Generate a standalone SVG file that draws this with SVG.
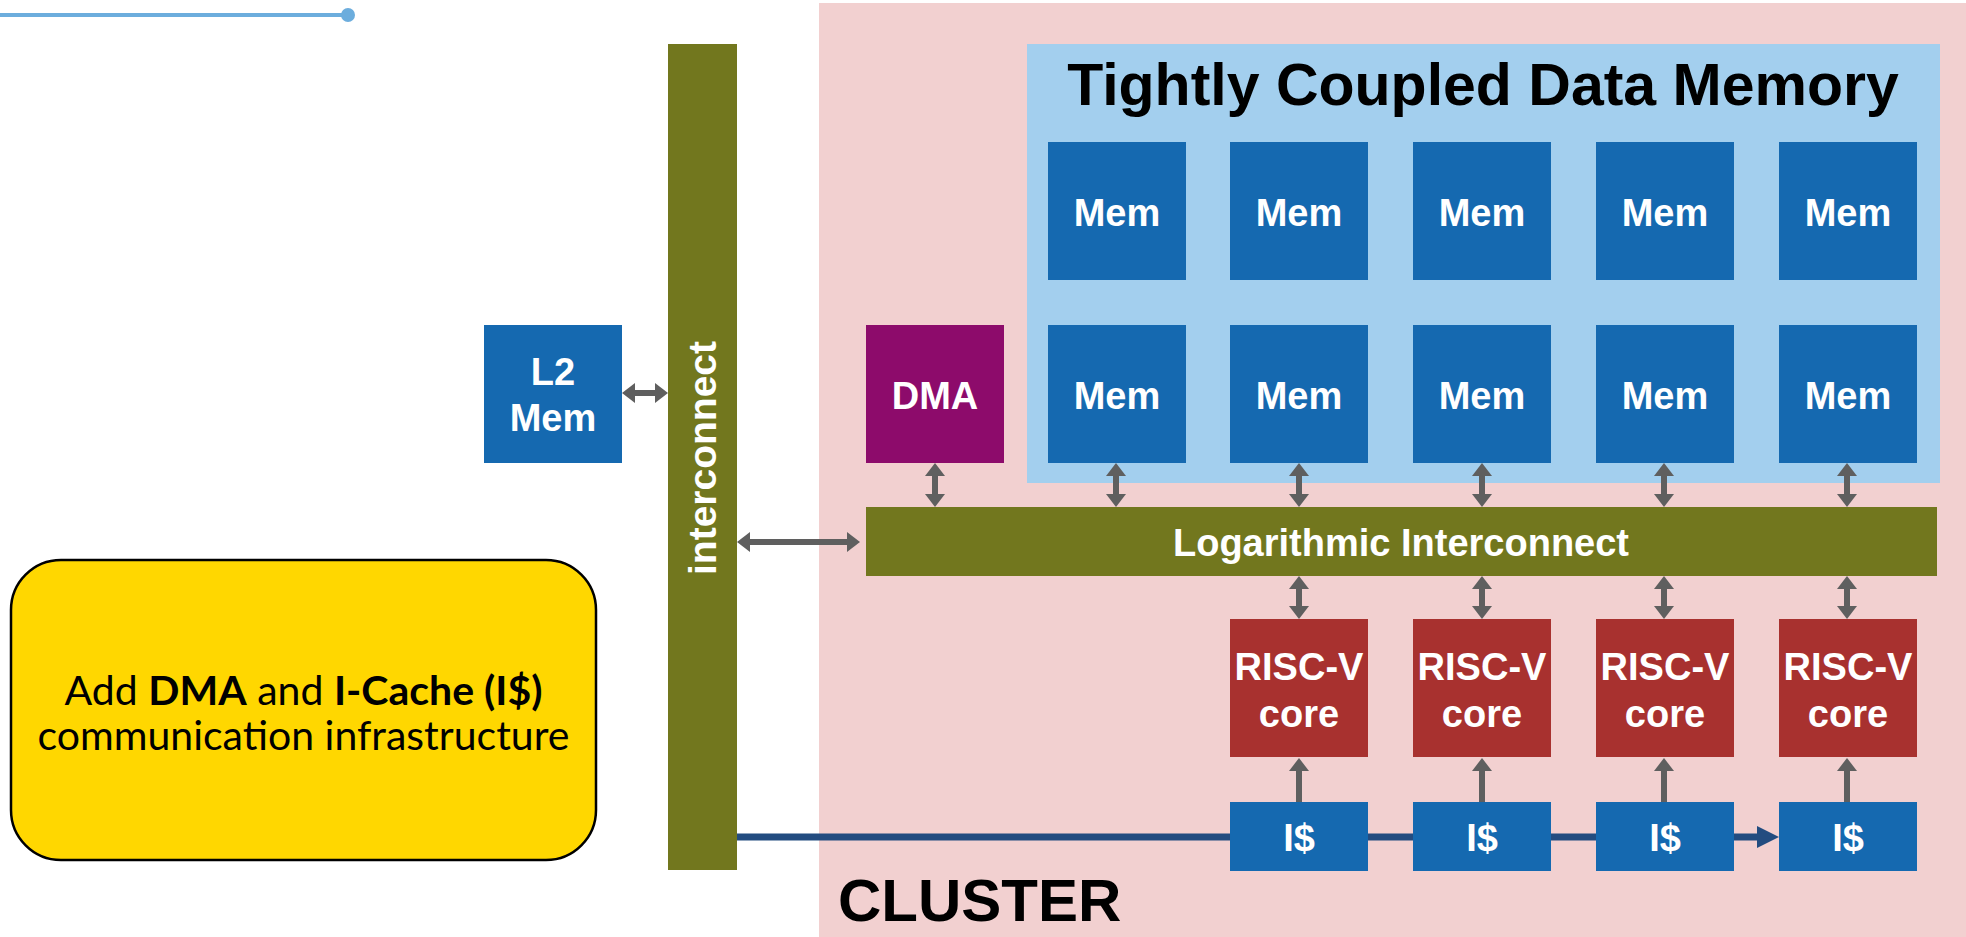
<svg xmlns="http://www.w3.org/2000/svg" width="1966" height="937" viewBox="0 0 1966 937">
  <style>
    .lbl { font-family: "Liberation Sans", Arial, sans-serif; font-weight: bold; fill: #ffffff; text-anchor: middle; }
    .mem { fill: #1569B0; }
    .core { fill: #A8312F; }
    .olive { fill: #72771E; }
    .arr { stroke: #5F5F5F; stroke-width: 6; fill: none; }
    .arr2 { marker-start: url(#head); marker-end: url(#head); }
    .arr1 { marker-end: url(#head); }
  </style>
  <defs>
    <marker id="head" markerUnits="userSpaceOnUse" markerWidth="13" markerHeight="20" refX="0" refY="10" orient="auto-start-reverse" viewBox="0 0 13 20">
      <path d="M0,0 L13,10 L0,20 z" fill="#5F5F5F"/>
    </marker>
    <marker id="navyhead" markerUnits="userSpaceOnUse" markerWidth="22" markerHeight="22" refX="0" refY="11" orient="auto" viewBox="0 0 22 22">
      <path d="M0,0 L22,11 L0,22 z" fill="#234C80"/>
    </marker>
  </defs>

  <rect width="1966" height="937" fill="#ffffff"/>

  <!-- title rule -->
  <g id="rule">
    <line x1="0" y1="15" x2="348" y2="15" stroke="#6CADDD" stroke-width="4"/>
    <circle cx="348" cy="15" r="7" fill="#6CADDD"/>
  </g>

  <!-- cluster region -->
  <g id="cluster">
    <rect x="819" y="3" width="1147" height="934" fill="#F2D0D0"/>
    <text x="838" y="921" font-family="Liberation Sans, Arial, sans-serif" font-weight="bold" font-size="60" fill="#000">CLUSTER</text>
  </g>

  <!-- TCDM background -->
  <g id="tcdm">
    <rect x="1027" y="44" width="913" height="439" fill="#A3CFEE"/>
    <text x="1483" y="105" font-family="Liberation Sans, Arial, sans-serif" font-weight="bold" font-size="59" fill="#000" text-anchor="middle">Tightly Coupled Data Memory</text>
  </g>

  <!-- connectors -->
  <g id="connectors">
    <!-- I$ refill chain -->
    <line x1="737" y1="837" x2="1757" y2="837" stroke="#234C80" stroke-width="7" marker-end="url(#navyhead)"/>
    <!-- L2 <-> interconnect -->
    <line class="arr arr2" x1="635" y1="393" x2="655" y2="393"/>
    <!-- interconnect <-> logarithmic interconnect -->
    <line class="arr arr2" x1="750" y1="542" x2="847" y2="542"/>
    <!-- DMA / Mem <-> log interconnect -->
    <line class="arr arr2" x1="935" y1="476" x2="935" y2="494"/>
    <line class="arr arr2" x1="1116" y1="476" x2="1116" y2="494"/>
    <line class="arr arr2" x1="1299" y1="476" x2="1299" y2="494"/>
    <line class="arr arr2" x1="1482" y1="476" x2="1482" y2="494"/>
    <line class="arr arr2" x1="1664" y1="476" x2="1664" y2="494"/>
    <line class="arr arr2" x1="1847" y1="476" x2="1847" y2="494"/>
    <!-- log interconnect <-> cores -->
    <line class="arr arr2" x1="1299" y1="589" x2="1299" y2="606"/>
    <line class="arr arr2" x1="1482" y1="589" x2="1482" y2="606"/>
    <line class="arr arr2" x1="1664" y1="589" x2="1664" y2="606"/>
    <line class="arr arr2" x1="1847" y1="589" x2="1847" y2="606"/>
    <!-- I$ -> cores -->
    <line class="arr arr1" x1="1299" y1="802" x2="1299" y2="771"/>
    <line class="arr arr1" x1="1482" y1="802" x2="1482" y2="771"/>
    <line class="arr arr1" x1="1664" y1="802" x2="1664" y2="771"/>
    <line class="arr arr1" x1="1847" y1="802" x2="1847" y2="771"/>
  </g>

  <!-- L2 memory -->
  <g id="l2mem">
    <rect class="mem" x="484" y="325" width="138" height="138"/>
    <text class="lbl" x="553" y="385" font-size="38">L2</text>
    <text class="lbl" x="553" y="431" font-size="38">Mem</text>
  </g>

  <!-- system interconnect -->
  <g id="interconnect">
    <rect class="olive" x="668" y="44" width="69" height="826"/>
    <text class="lbl" font-size="39" transform="translate(716,458) rotate(-90)" x="0" y="0">interconnect</text>
  </g>

  <!-- DMA -->
  <g id="dma">
    <rect x="866" y="325" width="138" height="138" fill="#8D0B6B"/>
    <text class="lbl" x="935" y="409" font-size="38">DMA</text>
  </g>

  <!-- memory banks -->
  <g id="mem-r1c1"><rect class="mem" x="1048" y="142" width="138" height="138"/><text class="lbl" x="1117" y="226" font-size="38">Mem</text></g>
  <g id="mem-r1c2"><rect class="mem" x="1230" y="142" width="138" height="138"/><text class="lbl" x="1299" y="226" font-size="38">Mem</text></g>
  <g id="mem-r1c3"><rect class="mem" x="1413" y="142" width="138" height="138"/><text class="lbl" x="1482" y="226" font-size="38">Mem</text></g>
  <g id="mem-r1c4"><rect class="mem" x="1596" y="142" width="138" height="138"/><text class="lbl" x="1665" y="226" font-size="38">Mem</text></g>
  <g id="mem-r1c5"><rect class="mem" x="1779" y="142" width="138" height="138"/><text class="lbl" x="1848" y="226" font-size="38">Mem</text></g>
  <g id="mem-r2c1"><rect class="mem" x="1048" y="325" width="138" height="138"/><text class="lbl" x="1117" y="409" font-size="38">Mem</text></g>
  <g id="mem-r2c2"><rect class="mem" x="1230" y="325" width="138" height="138"/><text class="lbl" x="1299" y="409" font-size="38">Mem</text></g>
  <g id="mem-r2c3"><rect class="mem" x="1413" y="325" width="138" height="138"/><text class="lbl" x="1482" y="409" font-size="38">Mem</text></g>
  <g id="mem-r2c4"><rect class="mem" x="1596" y="325" width="138" height="138"/><text class="lbl" x="1665" y="409" font-size="38">Mem</text></g>
  <g id="mem-r2c5"><rect class="mem" x="1779" y="325" width="138" height="138"/><text class="lbl" x="1848" y="409" font-size="38">Mem</text></g>

  <!-- logarithmic interconnect -->
  <g id="log-interconnect">
    <rect class="olive" x="866" y="507" width="1071" height="69"/>
    <text class="lbl" x="1401" y="556" font-size="38">Logarithmic Interconnect</text>
  </g>

  <!-- cores -->
  <g id="core1"><rect class="core" x="1230" y="619" width="138" height="138"/><text class="lbl" x="1299" y="680" font-size="38">RISC-V</text><text class="lbl" x="1299" y="727" font-size="38">core</text></g>
  <g id="core2"><rect class="core" x="1413" y="619" width="138" height="138"/><text class="lbl" x="1482" y="680" font-size="38">RISC-V</text><text class="lbl" x="1482" y="727" font-size="38">core</text></g>
  <g id="core3"><rect class="core" x="1596" y="619" width="138" height="138"/><text class="lbl" x="1665" y="680" font-size="38">RISC-V</text><text class="lbl" x="1665" y="727" font-size="38">core</text></g>
  <g id="core4"><rect class="core" x="1779" y="619" width="138" height="138"/><text class="lbl" x="1848" y="680" font-size="38">RISC-V</text><text class="lbl" x="1848" y="727" font-size="38">core</text></g>

  <!-- instruction caches -->
  <g id="icache1"><rect class="mem" x="1230" y="802" width="138" height="69"/><text class="lbl" x="1299" y="851" font-size="38">I$</text></g>
  <g id="icache2"><rect class="mem" x="1413" y="802" width="138" height="69"/><text class="lbl" x="1482" y="851" font-size="38">I$</text></g>
  <g id="icache3"><rect class="mem" x="1596" y="802" width="138" height="69"/><text class="lbl" x="1665" y="851" font-size="38">I$</text></g>
  <g id="icache4"><rect class="mem" x="1779" y="802" width="138" height="69"/><text class="lbl" x="1848" y="851" font-size="38">I$</text></g>

  <!-- note -->
  <g id="note">
    <rect x="11" y="560" width="585" height="300" rx="50" ry="50" fill="#FFD700" stroke="#000" stroke-width="2.5"/>
    <text x="303.5" y="705" font-family="Lato, 'Open Sans', sans-serif" font-size="41" fill="#000" text-anchor="middle">Add <tspan font-weight="bold">DMA</tspan> and <tspan font-weight="bold">I-Cache (I$)</tspan></text>
    <text x="303.5" y="750" font-family="Lato, 'Open Sans', sans-serif" font-size="41" fill="#000" text-anchor="middle">communication infrastructure</text>
  </g>
</svg>
